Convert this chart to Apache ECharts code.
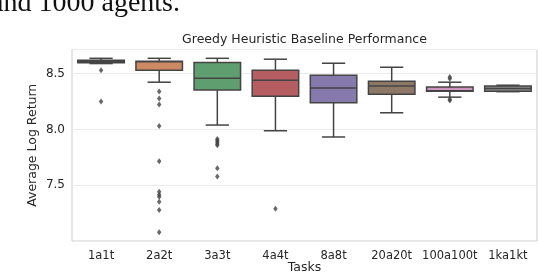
<!DOCTYPE html>
<html>
<head>
<meta charset="utf-8">
<script src="https://cdn.jsdelivr.net/npm/echarts@6/dist/echarts.min.js"></script>
<style>html,body{margin:0;padding:0;background:#fff;}#c{width:538px;height:274px;}</style>
</head>
<body>
<div id="c"></div>
<script>
const categories = ['1a1t','2a2t','3a3t','4a4t','8a8t','20a20t','100a100t','1ka1kt'];
// [lower whisker, Q1, median, Q3, upper whisker]
const lowerWhisker = [8.590, 8.423, 8.039, 7.988, 7.932, 8.149, 8.289, 8.338];
const q1Values     = [8.597, 8.530, 8.352, 8.298, 8.238, 8.316, 8.343, 8.342];
const medianValues = [8.610, 8.607, 8.459, 8.441, 8.370, 8.388, 8.347, 8.366];
const q3Values     = [8.620, 8.610, 8.600, 8.530, 8.486, 8.432, 8.379, 8.388];
const upperWhisker = [8.637, 8.637, 8.637, 8.629, 8.593, 8.557, 8.423, 8.396];
const boxColors = ['#5975a4','#cc8963','#5f9e6e','#b55d60','#857aab','#8d7866','#d095bf','#8c8c8c'];
// outliers per category
const outliers = [
  [8.530, 8.250],
  [8.340, 8.277, 8.223, 8.030, 7.715, 7.441, 7.414, 7.396, 7.352, 7.277, 7.078],
  [7.915, 7.900, 7.885, 7.870, 7.857, 7.652, 7.578],
  [7.289],
  [],
  [],
  [8.470, 8.455, 8.270, 8.258],
  []
];
const yTicks = [7.5, 8.0, 8.5];

const boxData = categories.map((c, i) => [i, lowerWhisker[i], q1Values[i], medianValues[i], q3Values[i], upperWhisker[i]]);
const outlierData = [];
outliers.forEach((arr, i) => arr.forEach(v => outlierData.push([i, v])));

const lineColor = '#444444';
const chart = echarts.init(document.getElementById('c'), null, {renderer: 'canvas'});
chart.setOption({
  animation: false,
  backgroundColor: '#ffffff',
  textStyle: {fontFamily: 'DejaVu Sans'},
  grid: {left: 72, right: 1, top: 49.5, bottom: 33, show: true, borderColor: '#cccccc', borderWidth: 1, containLabel: false, outerBoundsMode: 'none'},
  xAxis: {
    type: 'category', data: categories, boundaryGap: true,
    name: 'Tasks', nameLocation: 'middle', nameGap: 20, nameMoveOverlap: false,
    nameTextStyle: {fontSize: 12.5, color: '#262626', fontFamily: 'DejaVu Sans'},
    axisLine: {show: false}, axisTick: {show: false},
    axisLabel: {fontSize: 11.5, color: '#262626', margin: 9, interval: 0, fontFamily: 'DejaVu Sans'},
    splitLine: {show: false}
  },
  yAxis: {
    type: 'value', min: 7.0, max: 8.716, interval: 0.5,
    name: 'Average Log Return', nameLocation: 'middle', nameGap: 33, nameMoveOverlap: false,
    nameTextStyle: {fontSize: 12.5, color: '#262626', fontFamily: 'DejaVu Sans'},
    axisLine: {show: false}, axisTick: {show: false},
    axisLabel: {fontSize: 12, color: '#262626', margin: 7, showMinLabel: false, showMaxLabel: false,
      formatter: v => (yTicks.some(t => Math.abs(t - v) < 1e-6) ? v.toFixed(1) : '')},
    splitLine: {show: true, lineStyle: {color: '#ebebeb', width: 1}}
  },
  graphic: [
    {type: 'text', style: {x: 304.5, y: 40, text: 'Greedy Heuristic Baseline Performance', textAlign: 'center', textVerticalAlign: 'middle', fontSize: 12.5, fontFamily: 'DejaVu Sans', fill: '#262626'}},
    {type: 'text', style: {x: 180, y: 3.5, text: 'and 1000 agents.', textAlign: 'right', textVerticalAlign: 'middle', fontSize: 28, fontFamily: 'Liberation Serif', fill: '#111111'}}
  ],
  series: [
    {
      type: 'custom',
      data: boxData,
      encode: {x: 0, y: [1, 2, 3, 4, 5]},
      z: 2,
      renderItem: function (params, api) {
        const i = api.value(0);
        const x = api.coord([i, api.value(3)])[0];
        const band = api.size([1, 0])[0];
        const w = band * 0.8;
        const yLo = api.coord([i, api.value(1)])[1];
        const yQ1 = api.coord([i, api.value(2)])[1];
        const yMed = api.coord([i, api.value(3)])[1];
        const yQ3 = api.coord([i, api.value(4)])[1];
        const yHi = api.coord([i, api.value(5)])[1];
        const st = {stroke: lineColor, lineWidth: 1.5};
        return {
          type: 'group',
          children: [
            {type: 'line', shape: {x1: x, y1: yQ1, x2: x, y2: yLo}, style: st},
            {type: 'line', shape: {x1: x, y1: yQ3, x2: x, y2: yHi}, style: st},
            {type: 'line', shape: {x1: x - w / 4, y1: yLo, x2: x + w / 4, y2: yLo}, style: st},
            {type: 'line', shape: {x1: x - w / 4, y1: yHi, x2: x + w / 4, y2: yHi}, style: st},
            {type: 'rect', shape: {x: x - w / 2, y: yQ3, width: w, height: yQ1 - yQ3}, style: {fill: boxColors[i], stroke: lineColor, lineWidth: 1.5}},
            {type: 'line', shape: {x1: x - w / 2, y1: yMed, x2: x + w / 2, y2: yMed}, style: st}
          ]
        };
      }
    },
    {
      type: 'scatter',
      data: outlierData,
      symbol: 'diamond',
      symbolSize: [4.5, 6],
      itemStyle: {color: lineColor},
      z: 3
    }
  ]
});
</script>
</body>
</html>
